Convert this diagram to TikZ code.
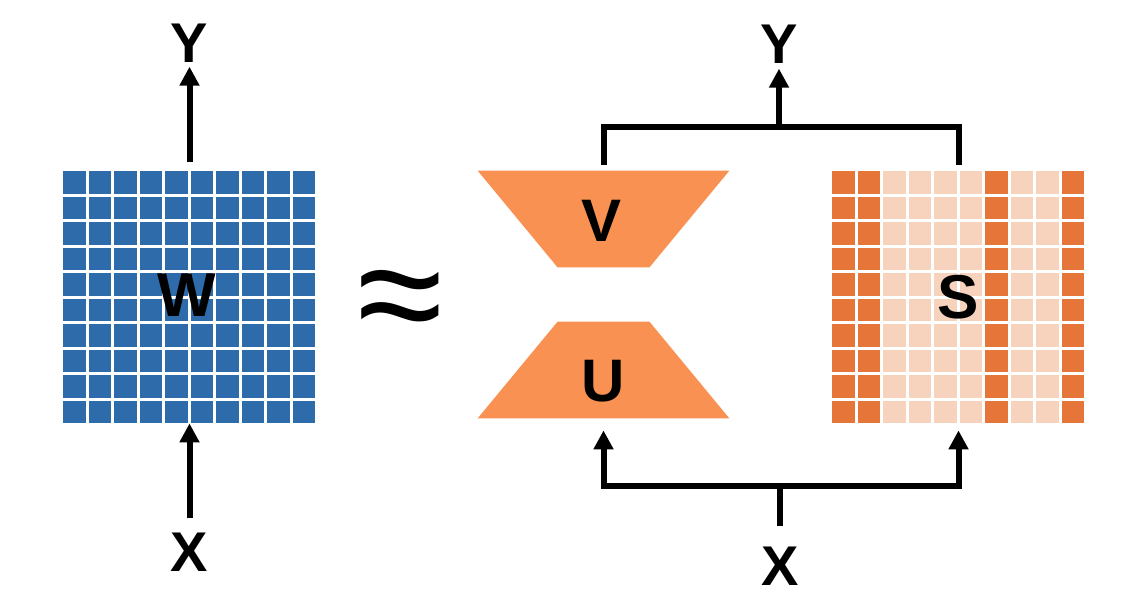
\documentclass[tikz,border=0pt]{standalone}
\usepackage{fontspec}
\setmainfont{Liberation Sans}
\usetikzlibrary{arrows.meta,positioning}
\definecolor{wblue}{RGB}{46,107,170}
\definecolor{sdark}{RGB}{229,117,56}
\definecolor{slight}{RGB}{247,211,190}
\definecolor{factor}{RGB}{249,145,82}
\begin{document}
\begin{tikzpicture}[
        x=0.5pt, y=-0.5pt,
        >={Triangle[width=9.5pt,length=9.5pt]}, % arrow tips
        io/.style={font=\bfseries\fontsize{28}{30}\selectfont, inner sep=0pt},
        mat/.style={font=\bfseries\fontsize{31}{33}\selectfont, inner sep=0pt},
        blk/.style={minimum width=125.5pt, minimum height=48pt, inner sep=0pt},
        wire/.style={line width=3pt},
        flow/.style={line width=3pt, ->}
    ]
    \useasboundingbox (0,0) rectangle (1122,596);

    % matrix W
    \foreach \i in {0,...,9}
        \foreach \j in {0,...,9}
            \fill[wblue] (63+25.5*\i,171+25.5*\j) rectangle ++(22.8,22.8);
    \node[blk, minimum height=124pt] (Wb) at (189.5,295) {};
    \node[mat] (W) at (187,295) {W};

    \node[io] (Yl) at (189.5,43) {Y};
    \node[io] (Xl) at (189.5,552) {X};
    \draw[flow, shorten <=4.5pt, shorten >=2pt] (Wb.north) -- (Yl.south);
    \draw[flow, shorten <=7pt, shorten >=2pt] (Xl.north) -- (Wb.south);

    % approx sign
    \node[font=\fontsize{78}{78}\selectfont, inner sep=0pt] (approx) at (400,309) {≈};

    % factors V and U
    \node[blk] (Vb) at (603.5,219) {};
    \fill[factor] (Vb.north west) -- (Vb.north east) -- ([xshift=-40pt]Vb.south east) -- ([xshift=40pt]Vb.south west) -- cycle;
    \node[blk] (Ub) at (603.5,370) {};
    \fill[factor] ([xshift=40pt]Ub.north west) -- ([xshift=-40pt]Ub.north east) -- (Ub.south east) -- (Ub.south west) -- cycle;
    \node[mat, font=\bfseries\fontsize{30}{32}\selectfont] (V) at (601,221) {V};
    \node[mat, font=\bfseries\fontsize{30}{32}\selectfont] (U) at (603,381) {U};

    % sparse matrix S
    \foreach \i/\c in {0/sdark,1/sdark,2/slight,3/slight,4/slight,5/slight,6/sdark,7/slight,8/slight,9/sdark}
        \foreach \j in {0,...,9}
            \fill[\c] (832+25.5*\i,171+25.5*\j) rectangle ++(22.8,22.8);
    \node[blk, minimum height=124pt] (Sb) at (958.5,295) {};
    \node[mat] (S) at (958,297) {S};

    % output branch
    \coordinate (top) at (779,126.5);
    \node[io] (Yr) at (779,44) {Y};
    \draw[wire] ([yshift=3pt]Vb.north) |- (top) -| ([yshift=3pt]Sb.north);
    \draw[flow, shorten >=2.5pt] (top) -- (Yr.south);

    % input branch
    \coordinate (bot) at (780,486);
    \node[io] (Xr) at (780,566) {X};
    \draw[wire, shorten <=10pt] (Xr.north) -- (bot);
    \draw[flow, shorten >=6pt] (bot) -| (Ub.south);
    \draw[flow, shorten >=5.5pt] (bot) -| (Sb.south);

\end{tikzpicture}
\end{document}
